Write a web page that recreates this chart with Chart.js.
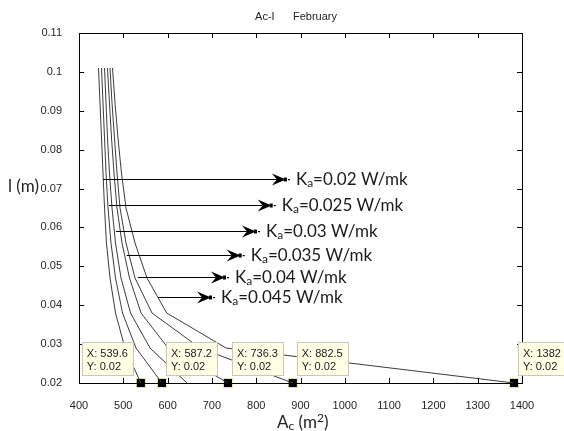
<!DOCTYPE html>
<html>
<head>
<meta charset="utf-8">
<script src="https://cdn.jsdelivr.net/npm/chart.js@4.4.0/dist/chart.umd.min.js"></script>
<style>
  html, body { margin: 0; padding: 0; background: #fff; }
  #wrap { width: 564px; height: 431px; }
</style>
</head>
<body>
<div id="wrap"><canvas id="chart" width="564" height="431"></canvas></div>
<script>
// l (m) levels, top to bottom
var lengths = [0.101, 0.092, 0.083, 0.074, 0.065, 0.056, 0.047, 0.038, 0.029, 0.02];
// Ac (m2) for each Ka
var ka020 = [444, 447.4, 450.8, 454.2, 457.6, 462, 470, 482.4, 503.8, 539.6];
var ka025 = [450.8, 454.2, 457.6, 461, 465.5, 472.2, 482.4, 498.2, 528.7, 587.2];
var ka030 = [457.6, 461, 464.3, 468.8, 474.5, 482.4, 494.8, 516.3, 560.3, 643.8];
var ka035 = [464.3, 468.8, 473.4, 479, 485.8, 497.1, 514, 540, 601, 736.3];
var ka040 = [470, 474.5, 480.1, 485.8, 492.6, 506.1, 526.4, 564.8, 673.1, 882.5];
var ka045 = [475.6, 481.3, 488, 495.9, 506.1, 526.4, 553.5, 598, 731.8, 1382];
var kaNames = ["0.02", "0.025", "0.03", "0.035", "0.04", "0.045"];

// data tips
var tipX = [539.6, 587.2, 736.3, 882.5, 1382];
var tipY = [0.02, 0.02, 0.02, 0.02, 0.02];

var xTicks = [400, 500, 600, 700, 800, 900, 1000, 1100, 1200, 1300, 1400];
var yTicks = [0.02, 0.03, 0.04, 0.05, 0.06, 0.07, 0.08, 0.09, 0.1, 0.11];
var yTickLabels = ["0.02", "0.03", "0.04", "0.05", "0.06", "0.07", "0.08", "0.09", "0.1", "0.11"];

// annotation arrows (data coords): level, start Ac, tip Ac
var arrowL = [0.0724, 0.0658, 0.0591, 0.0529, 0.0473, 0.0422];
var arrowFrom = [454.2, 467.7, 483.5, 507.7, 533.2, 578.3];
var arrowTo = [867, 835, 799.5, 765, 729.6, 698];

function pts(xs) {
  return xs.map(function (v, i) { return { x: v, y: lengths[i] }; });
}

var series = [ka020, ka025, ka030, ka035, ka040, ka045];
var datasets = series.map(function (s, i) {
  return {
    label: "Ka=" + kaNames[i],
    data: pts(s),
    showLine: true,
    borderColor: "#3c3c3c",
    borderWidth: 1,
    pointRadius: 0,
    tension: 0
  };
});
datasets.push({
  label: "tips",
  data: tipX.map(function (v, i) { return { x: v, y: tipY[i] }; }),
  showLine: false,
  pointStyle: "rect",
  pointRadius: 6.5,
  backgroundColor: "#000",
  borderColor: "#f4f0b0",
  borderWidth: 1,
  clip: false
});

function subText(ctx, x, y, size, parts) {
  // parts: [text, kind] kind: 0 normal, 1 sub, 2 sup
  parts.forEach(function (p) {
    var s = p[1] ? Math.round(size * 0.68) : size;
    var dy = p[1] === 1 ? size * 0.12 : (p[1] === 2 ? -size * 0.38 : 0);
    ctx.font = s + "px Lato";
    ctx.fillText(p[0], x, y + dy);
    x += ctx.measureText(p[0]).width;
  });
}

function arrowHead(ctx, x, y) {
  ctx.beginPath();
  ctx.moveTo(x, y);
  ctx.lineTo(x - 14, y - 6);
  ctx.lineTo(x - 9, y);
  ctx.lineTo(x - 14, y + 6);
  ctx.closePath();
  ctx.fill();
  ctx.fillRect(x - 2, y - 2, 3, 4);
  ctx.fillRect(x + 2, y - 0.5, 2, 1.2);
}

var decor = {
  id: "decor",
  afterDatasetsDraw: function (chart) {
    var ctx = chart.ctx;
    var xs = chart.scales.x, ys = chart.scales.y;
    var a = chart.chartArea;
    ctx.save();

    // frame + inner ticks on all sides
    ctx.strokeStyle = "#000";
    ctx.lineWidth = 1;
    ctx.strokeRect(Math.round(a.left) + 0.5, Math.round(a.top) + 0.5,
      Math.round(a.right - a.left), Math.round(a.bottom - a.top));
    ctx.beginPath();
    xTicks.forEach(function (v) {
      var px = Math.round(xs.getPixelForValue(v)) + 0.5;
      ctx.moveTo(px, a.bottom); ctx.lineTo(px, a.bottom - 5);
      ctx.moveTo(px, a.top); ctx.lineTo(px, a.top + 5);
    });
    yTicks.forEach(function (v) {
      var py = Math.round(ys.getPixelForValue(v)) + 0.5;
      ctx.moveTo(a.left, py); ctx.lineTo(a.left + 5, py);
      ctx.moveTo(a.right, py); ctx.lineTo(a.right - 5, py);
    });
    ctx.stroke();

    // arrows and Ka labels
    ctx.fillStyle = "#000";
    ctx.strokeStyle = "#000";
    arrowL.forEach(function (l, i) {
      var y = Math.round(ys.getPixelForValue(l)) + 0.5;
      var x0 = xs.getPixelForValue(arrowFrom[i]);
      var x1 = xs.getPixelForValue(arrowTo[i]);
      ctx.beginPath();
      ctx.moveTo(x0, y); ctx.lineTo(x1 - 9, y);
      ctx.stroke();
      arrowHead(ctx, x1, y);
      ctx.fillStyle = "#1a1a1a";
      subText(ctx, x1 + 10, y + 5, 17, [["K", 0], ["a", 1], ["=" + kaNames[i] + " W/mk", 0]]);
      ctx.fillStyle = "#000";
    });

    // data tip boxes
    ctx.font = "11px 'Liberation Sans'";
    tipX.forEach(function (v, i) {
      var mx = xs.getPixelForValue(v);
      var w = 51, h = 33;
      var bx = i === 0 ? mx - 8 - w : mx + 4;
      var by = 342;
      ctx.fillStyle = "#ffffe6";
      ctx.fillRect(bx, by, w, h);
      ctx.strokeStyle = "#c8c8b4";
      ctx.strokeRect(Math.round(bx) + 0.5, by + 0.5, w, h);
      ctx.fillStyle = "#222";
      ctx.fillText("X: " + v, bx + 5, by + 15);
      ctx.fillText("Y: " + tipY[i], bx + 5, by + 28);
    });

    // title and axis labels
    ctx.fillStyle = "#222";
    ctx.font = "11px 'Liberation Sans'";
    ctx.textAlign = "center";
    ctx.fillText("Ac-I      February", 296, 20);
    ctx.textAlign = "left";
    subText(ctx, 8, 192, 17, [["l (m)", 0]]);
    subText(ctx, 277, 428, 17, [["A", 0], ["c", 1], [" (m", 0], ["2", 2], [")", 0]]);
    ctx.restore();
  }
};

new Chart(document.getElementById("chart"), {
  type: "scatter",
  data: { datasets: datasets },
  options: {
    responsive: false,
    animation: false,
    layout: { padding: { top: 33, right: 42, left: 0, bottom: 0 } },
    plugins: { legend: { display: false }, tooltip: { enabled: false } },
    scales: {
      x: {
        type: "linear", min: 400, max: 1400,
        afterBuildTicks: function (s) { s.ticks = xTicks.map(function (v) { return { value: v }; }); },
        afterFit: function (s) { s.height = 48; },
        grid: { display: false },
        border: { display: false },
        ticks: {
          padding: 8, color: "#262626", font: { family: "Liberation Sans", size: 11 }, maxRotation: 0,
          callback: function (v) { return String(v); }
        }
      },
      y: {
        type: "linear", min: 0.02, max: 0.11,
        afterBuildTicks: function (s) { s.ticks = yTicks.map(function (v) { return { value: v }; }); },
        afterFit: function (s) { s.width = 79; },
        grid: { display: false },
        border: { display: false },
        ticks: {
          padding: 9, color: "#262626", font: { family: "Liberation Sans", size: 11 },
          callback: function (v, i) { return yTickLabels[i]; }
        }
      }
    }
  },
  plugins: [decor]
});
</script>
</body>
</html>
